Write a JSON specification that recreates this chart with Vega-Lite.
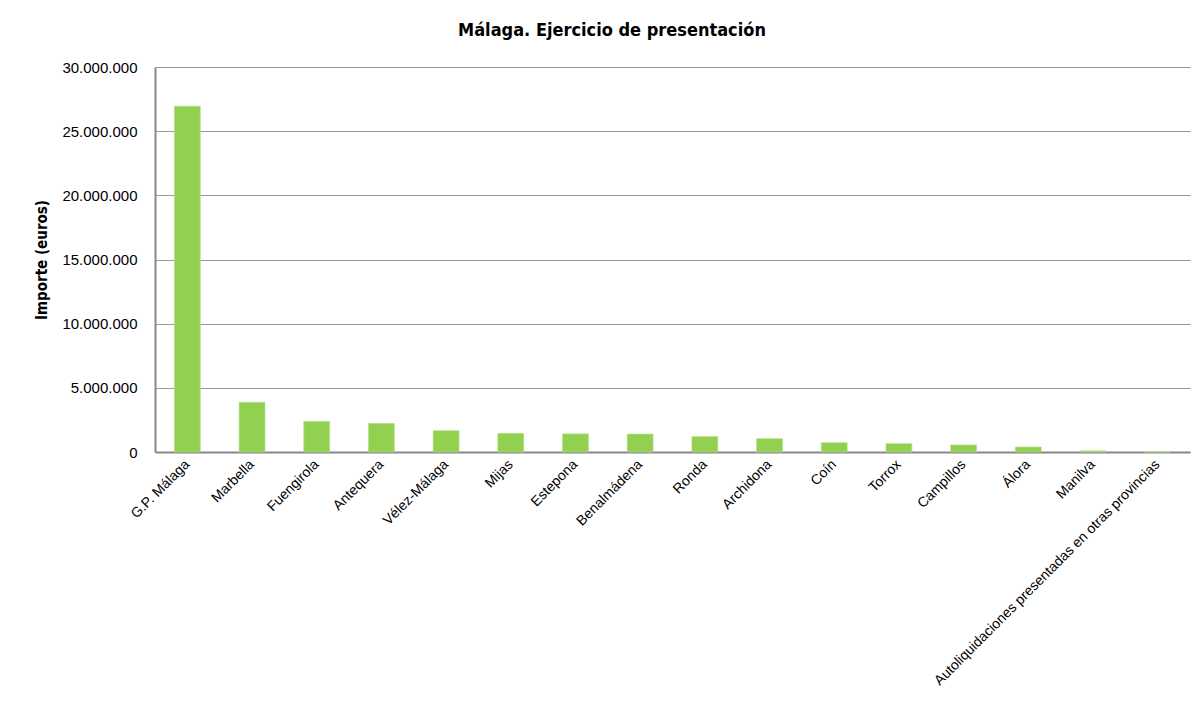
{
  "$schema": "https://vega.github.io/schema/vega-lite/v6.json",
  "width": 1035,
  "height": 385,
  "autosize": "none",
  "padding": {"left": 155, "top": 67, "right": 13, "bottom": 263},
  "background": "white",
  "title": {
    "text": "Málaga. Ejercicio de presentación",
    "anchor": "middle",
    "frame": "bounds",
    "font": "DejaVu Sans Condensed, Liberation Sans",
    "fontSize": 18,
    "fontWeight": "bold",
    "color": "black",
    "offset": 20
  },
  "data": {
    "values": [
      {"municipio": "G.P. Málaga", "importe": 26950000},
      {"municipio": "Marbella", "importe": 3870000},
      {"municipio": "Fuengirola", "importe": 2380000},
      {"municipio": "Antequera", "importe": 2220000},
      {"municipio": "Vélez-Málaga", "importe": 1660000},
      {"municipio": "Mijas", "importe": 1450000},
      {"municipio": "Estepona", "importe": 1410000},
      {"municipio": "Benalmádena", "importe": 1400000},
      {"municipio": "Ronda", "importe": 1200000},
      {"municipio": "Archidona", "importe": 1040000},
      {"municipio": "Coín", "importe": 730000},
      {"municipio": "Torrox", "importe": 650000},
      {"municipio": "Campillos", "importe": 550000},
      {"municipio": "Álora", "importe": 390000},
      {"municipio": "Manilva", "importe": 90000},
      {"municipio": "Autoliquidaciones presentadas en otras provincias", "importe": 10000}
    ]
  },
  "mark": {"type": "bar", "color": "#92d050", "stroke": "#b5e08a", "strokeWidth": 0.7},
  "encoding": {
    "x": {
      "field": "municipio",
      "type": "nominal",
      "sort": null,
      "scale": {"paddingInner": 0.6, "paddingOuter": 0.3},
      "axis": {
        "title": null,
        "labelAngle": -45,
        "labelAlign": "right",
        "labelBaseline": "middle",
        "labelFont": "Liberation Sans",
        "labelFontSize": 14,
        "labelColor": "black",
        "labelLimit": 400,
        "labelPadding": 10,
        "ticks": false,
        "domainColor": "#888888",
        "domainWidth": 2
      }
    },
    "y": {
      "field": "importe",
      "type": "quantitative",
      "scale": {"domain": [0, 30000000]},
      "axis": {
        "title": "Importe (euros)",
        "titleFont": "DejaVu Sans Condensed, Liberation Sans",
        "titleFontSize": 15,
        "titleFontWeight": "bold",
        "titleColor": "black",
        "titleX": -106,
        "values": [0, 5000000, 10000000, 15000000, 20000000, 25000000, 30000000],
        "labelExpr": "replace(format(datum.value, ','), /,/g, '.')",
        "labelFont": "Liberation Sans",
        "labelFontSize": 15,
        "labelColor": "black",
        "labelPadding": 18,
        "ticks": false,
        "grid": true,
        "gridColor": "#999999",
        "gridWidth": 1,
        "domainColor": "#888888",
        "domainWidth": 2
      }
    }
  },
  "config": {
    "view": {"stroke": null}
  }
}
